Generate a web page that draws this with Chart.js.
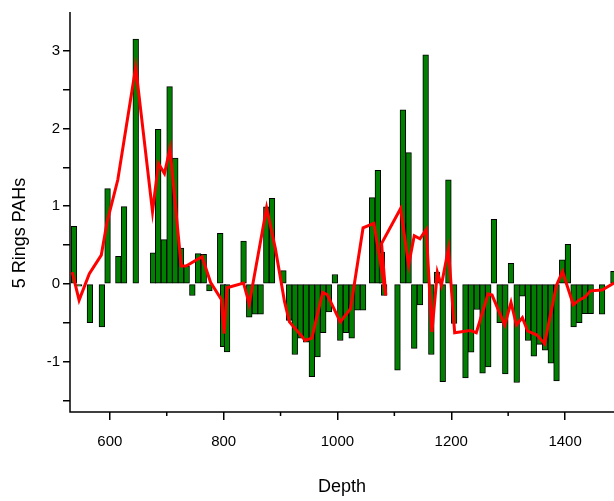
<!DOCTYPE html>
<html>
<head>
<meta charset="utf-8">
<script src="https://cdn.jsdelivr.net/npm/chart.js@4.4.1/dist/chart.umd.min.js"></script>
<style>
  body { margin: 0; background: #fff; }
  canvas { display: block; }
</style>
</head>
<body>
<canvas id="chart" width="614" height="501"></canvas>
<script>
// Bars: depth and value
const barDepth = [537, 546, 565, 586, 596, 615, 625, 645.5, 676, 685, 695, 705, 715, 725, 735, 745,
  755, 765, 775, 794, 799, 806, 835, 845, 855, 865, 875, 885, 905, 915, 925, 935, 945, 955, 965,
  975, 985, 995.5, 1005, 1015, 1025, 1035, 1045, 1061, 1071, 1078, 1082, 1105.5, 1115, 1125, 1135,
  1145, 1155, 1165, 1175, 1185, 1195, 1205, 1225, 1235, 1245, 1255, 1265, 1275, 1285, 1295, 1305,
  1315, 1325, 1335, 1345, 1355, 1365, 1375, 1385, 1395, 1405, 1415, 1425, 1435, 1445, 1465, 1485];
const barValue = [0.74, -0.03, -0.5, -0.555, 1.225, 0.355, 0.995, 3.15, 0.4, 1.99, 0.57, 2.54, 1.62, 0.46, 0.23, -0.15,
  0.39, 0.38, -0.09, 0.65, -0.81, -0.875, 0.55, -0.43, -0.39, -0.39, 0.99, 1.1, 0.17, -0.47, -0.91, -0.7, -0.75, -1.195, -0.94,
  -0.63, -0.36, 0.12, -0.73, -0.63, -0.7, -0.34, -0.34, 1.11, 1.46, 0.41, -0.15, -1.11, 2.24, 1.69, -0.83,
  -0.27, 2.95, -0.91, 0.15, -1.26, 1.34, -0.51, -1.21, -0.88, -0.33, -1.15, -1.07, 0.83, -0.5, -1.16, 0.265,
  -1.27, -0.16, -0.73, -0.93, -0.78, -0.855, -1.02, -1.25, 0.31, 0.51, -0.555, -0.5, -0.385, -0.385, -0.39, 0.16];

// Red line: depth and value, in drawing order
const lineDepth = [534, 546, 564, 585, 595, 614, 645.5, 675, 685.4, 696, 705.7, 725.4, 734, 762, 777, 796,
  801, 806, 835, 845, 875.5, 891, 907, 915.6, 938, 943, 955, 974, 982, 1005, 1023, 1045, 1064,
  1085, 1077.5, 1111, 1125, 1135, 1145, 1156, 1166, 1175.6, 1182.6, 1195, 1206, 1233, 1244, 1264.7,
  1271.7, 1294, 1305, 1314.6, 1325, 1334.4, 1350.8, 1364, 1384.8, 1395.5, 1414.5, 1424.5, 1435, 1444.7,
  1465, 1486];
const lineValue = [0.15, -0.21, 0.13, 0.37, 0.79, 1.34, 2.79, 0.93, 1.55, 1.42, 1.74, 0.23, 0.23, 0.35, 0.02, -0.2,
  -0.64, -0.05, 0.01, -0.26, 0.98, 0.45, -0.23, -0.49, -0.68, -0.73, -0.7, -0.11, -0.14, -0.49, -0.32, 0.72, 0.78,
  -0.15, 0.52, 0.97, 0.24, 0.62, 0.58, 0.7, -0.62, 0.15, -0.02, 0.45, -0.63, -0.6, -0.63, -0.13,
  -0.145, -0.53, -0.24, -0.53, -0.435, -0.61, -0.66, -0.77, -0.02, 0.16, -0.27, -0.21, -0.17, -0.09,
  -0.08, 0.01];

const xMajorTicks = [600, 800, 1000, 1200, 1400];
const xMinorTicks = [700, 900, 1100, 1300];
const yTicks = [-1.5, -1, -0.5, 0, 0.5, 1, 1.5, 2, 2.5, 3];

const fontFamily = "'Liberation Sans', Arial, sans-serif";

// eixos, traços menores e título do eixo y
const axisPlugin = {
  id: "axisLines",
  afterDraw(chart) {
    const { ctx, chartArea, scales } = chart;
    ctx.save();
    ctx.strokeStyle = "#000";
    ctx.lineWidth = 1.5;
    ctx.beginPath();
    ctx.moveTo(chartArea.left, chartArea.top);
    ctx.lineTo(chartArea.left, chartArea.bottom);
    ctx.lineTo(chartArea.right, chartArea.bottom);
    xMinorTicks.forEach((v) => {
      const px = scales.x.getPixelForValue(v);
      ctx.moveTo(px, chartArea.bottom);
      ctx.lineTo(px, chartArea.bottom + 4);
    });
    ctx.stroke();

    ctx.translate(20, 233);
    ctx.rotate(-Math.PI / 2);
    ctx.fillStyle = "#000";
    ctx.font = "18px " + fontFamily;
    ctx.textAlign = "center";
    ctx.textBaseline = "middle";
    ctx.fillText("5 Rings PAHs", 0, 0);
    ctx.restore();
  },
};

const ctx = document.getElementById("chart").getContext("2d");
const chart = new Chart(ctx, {
  data: {
    datasets: [
      {
        type: "line",
        data: lineDepth.map((d, i) => ({ x: d, y: lineValue[i] })),
        borderColor: "#ff0000",
        borderWidth: 3,
        pointRadius: 0,
        tension: 0,
        order: 0,
      },
      {
        type: "bar",
        data: barDepth.map((d, i) => ({ x: d, y: barValue[i] })),
        backgroundColor: "#007f00",
        borderColor: "#000",
        borderWidth: 1,
        borderSkipped: false,
        barThickness: 5.7,
        order: 1,
      },
    ],
  },
  options: {
    responsive: false,
    animation: false,
    layout: { padding: { top: 12, right: 0, left: 0, bottom: 0 } },
    plugins: { legend: { display: false }, tooltip: { enabled: false } },
    scales: {
      x: {
        type: "linear",
        offset: false,
        min: 530,
        max: 1486,
        afterFit: (s) => { s.height = 89; },
        afterBuildTicks: (s) => { s.ticks = xMajorTicks.map((v) => ({ value: v })); },
        grid: { offset: false, drawOnChartArea: false, drawTicks: true, tickLength: 8, color: "#000", lineWidth: 1.5 },
        border: { display: false },
        ticks: {
          color: "#000",
          font: { family: fontFamily, size: 15 },
          padding: 13,
          maxRotation: 0,
          callback: (v) => String(v),
        },
        title: { display: true, text: "Depth", color: "#000", font: { family: fontFamily, size: 18 }, padding: { bottom: 3 } },
      },
      y: {
        type: "linear",
        min: -1.65,
        max: 3.5,
        afterFit: (s) => { s.width = 70; },
        afterBuildTicks: (s) => { s.ticks = yTicks.map((v) => ({ value: v })); },
        grid: { drawOnChartArea: false, drawTicks: true, tickLength: 7, color: "#000", lineWidth: 1.5 },
        border: { display: false },
        ticks: {
          color: "#000",
          font: { family: fontFamily, size: 15 },
          padding: 3,
          callback: (v) => (Number.isInteger(v) ? String(v) : ""),
        },
      },
    },
  },
  plugins: [axisPlugin],
});
</script>
</body>
</html>
